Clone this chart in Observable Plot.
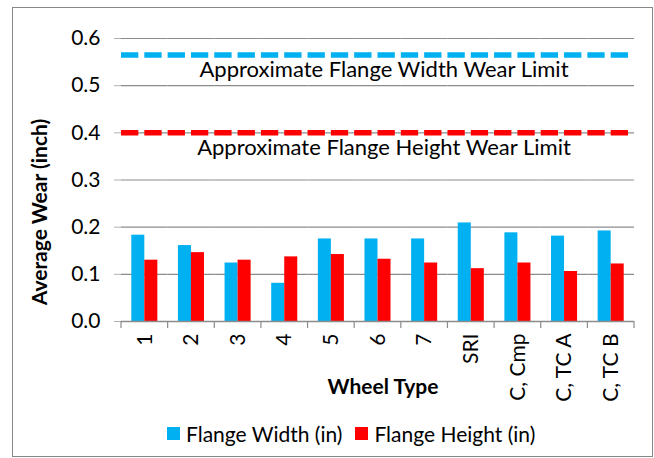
<!DOCTYPE html>
<html><head><meta charset="utf-8">
<script src="https://cdn.jsdelivr.net/npm/d3@7"></script>
<script src="https://cdn.jsdelivr.net/npm/@observablehq/plot@0.6"></script>
<style>
html,body{margin:0;padding:0;background:#fff;}
#box{position:absolute;left:12px;top:7px;width:641px;height:450px;border:1px solid #878787;box-sizing:border-box;}
#chart{position:absolute;left:0;top:0;}
#legend{position:absolute;left:167px;top:421px;font:21px Lato,sans-serif;display:flex;align-items:center;color:#000;white-space:nowrap;}
#legend .sw{display:inline-block;width:13px;height:13px;margin-right:6px;}
#legend .item{display:flex;align-items:center;margin-right:13px;}
</style></head>
<body>
<div id="box"></div>
<div id="chart"></div>
<div id="legend"></div>
<script>
const categories = ["1","2","3","4","5","6","7","SRI","C, Cmp","C, TC A","C, TC B"];
const flangeWidth  = [0.183,0.161,0.124,0.081,0.175,0.175,0.175,0.209,0.188,0.181,0.192];
const flangeHeight = [0.130,0.146,0.130,0.137,0.142,0.132,0.124,0.112,0.124,0.106,0.122];
const seriesNames  = ["Flange Width (in)","Flange Height (in)"];
const seriesColors = ["#00B0F0","#FF0000"];
const yTicks = [0,0.1,0.2,0.3,0.4,0.5,0.6];
const limitValues = [0.565, 0.4];
const limitLabels = ["Approximate Flange Width Wear Limit","Approximate Flange Height Wear Limit"];
const labelCategory = "6";
const xTitle = "Wheel Type";
const yTitle = "Average Wear (inch)";

const data = categories.flatMap((c,i)=>[
  {cat:c, series:seriesNames[0], value:flangeWidth[i]},
  {cat:c, series:seriesNames[1], value:flangeHeight[i]}
]);
const limits = limitValues.map((v,i)=>({value:v, label:limitLabels[i], series:seriesNames[i], cat:labelCategory}));
const grey = "#8c8c8c";

const plot = Plot.plot({
  width:654, height:410,
  marginLeft:121, marginRight:20, marginTop:38, marginBottom:89,
  style:{fontFamily:"Lato, sans-serif", fontSize:"21px", color:"#000", background:"transparent"},
  fx:{domain:categories, paddingInner:0, paddingOuter:0, round:false, label:null, axis:null},
  x:{domain:seriesNames, paddingInner:0, paddingOuter:0.79, round:false, axis:null},
  y:{domain:[0,0.6], axis:null},
  color:{domain:seriesNames, range:seriesColors},
  marks:[
    Plot.ruleY(yTicks.filter(d=>d>0), {stroke:grey, strokeWidth:1.2}),
    Plot.barY(data, {fx:"cat", x:"series", y:"value", fill:"series"}),
    Plot.ruleY([0], {stroke:grey, strokeWidth:1.5}),
    Plot.ruleY(limits, {y:"value", stroke:"series", strokeWidth:5.5, strokeDasharray:"17.32,6"}),
    Plot.text(limits, {fx:"cat", y:"value", text:"label", lineAnchor:"top", dy:6.5, dx:6, fontSize:22}),
    Plot.axisY({ticks:yTicks, tickFormat:".1f", tickSize:7, tickPadding:14, label:null, stroke:"#b0b0b0", line:true}),
    Plot.axisFx({anchor:"bottom", tickRotate:-90, tickSize:0, tickPadding:12, label:null}),
    Plot.text([xTitle], {frameAnchor:"bottom", dy:72, dx:5, lineAnchor:"bottom", textAnchor:"middle", fontWeight:"bold", facet:"super"}),
    Plot.text([yTitle], {frameAnchor:"left", dx:-81, dy:32, rotate:-90, lineAnchor:"middle", textAnchor:"middle", fontWeight:"bold", facet:"super"})
  ]
});
document.getElementById("chart").appendChild(plot);

// category boundary tick marks, placed with the fx band scale
const fx = plot.scale("fx"), y = plot.scale("y");
const svgEl = plot.tagName.toLowerCase() === "svg" ? plot : plot.querySelector("svg");
const svg = d3.select(svgEl);
const edges = categories.map(c=>fx.apply(c)).concat([fx.apply(categories[categories.length-1]) + fx.bandwidth]);
const y0 = y.apply(0);
svg.append("g").attr("stroke", grey).attr("stroke-width", 1.2)
  .selectAll("line").data(edges).join("line")
  .attr("x1", d=>d).attr("x2", d=>d).attr("y1", y0).attr("y2", y0+7);

// legend
const lg = d3.select("#legend");
seriesNames.forEach((s,i)=>{
  const it = lg.append("span").attr("class","item");
  it.append("span").attr("class","sw").style("background", seriesColors[i]);
  it.append("span").text(s);
});
</script>
</body></html>
